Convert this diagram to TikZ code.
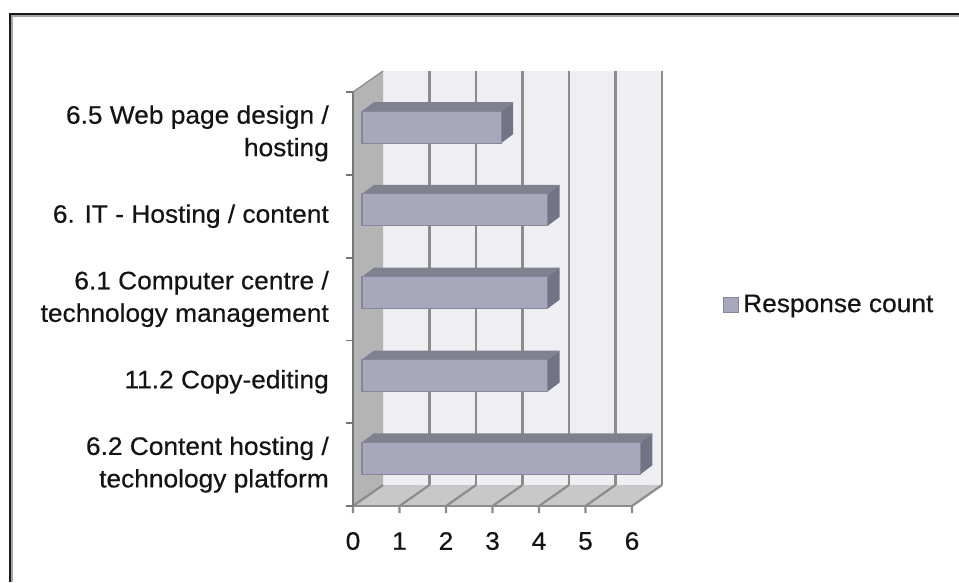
\documentclass[tikz,border=0pt]{standalone}
\usepackage{fontspec}
\setmainfont{Liberation Sans}[FakeStretch=1.04, FakeBold=0.4]
\definecolor{wallc}{HTML}{EFEFF3}
\definecolor{sidec}{HTML}{B4B4B4}
\definecolor{floorc}{HTML}{C8C8C8}
\definecolor{gridc}{HTML}{8C8C8C}
\definecolor{barfront}{HTML}{A7A8BB}
\definecolor{bartop}{HTML}{80818F}
\definecolor{barside}{HTML}{727384}
\definecolor{baredge}{HTML}{858699}
\begin{document}
\begin{tikzpicture}[x=1pt,y=-1pt,
  lab/.style={font=\fontsize{25.3}{32.5}\selectfont, text=black!92, inner sep=0pt},
  gridline/.style={draw=gridc, line width=2.2pt},
  axisline/.style={draw=gridc!85!black, line width=1.8pt},
  barface/.style={draw=baredge, line width=1.1pt, line join=round}]
\useasboundingbox (0,0) rectangle (959,582);
\fill[white] (0,0) rectangle (959,582);
% frame
\draw[black!35, line width=1.6pt] (11.8,582) -- (11.8,15.8) -- (959,15.8);
\draw[black!90, line width=2pt] (9.6,582) -- (9.6,13.6) -- (959,13.6);
% walls
\fill[wallc] (383,71) rectangle (662,485);
\fill[sidec] (353,92) -- (383,71) -- (383,485) -- (353,506) -- cycle;
\fill[floorc] (353,506) -- (383,485) -- (662,485) -- (632,506) -- cycle;
% gridlines
\foreach \k in {1,...,6} {
  \draw[gridline] (383+46.5*\k,71) -- (383+46.5*\k,485);
}
\foreach \k in {0,...,6} {
  \draw[gridline] (383+46.5*\k,485) -- (353+46.5*\k,506) -- (353+46.5*\k,513);
}
\draw[gridline] (353,506) -- (632,506);
\draw[gridline, line width=1.2pt] (353,92) -- (383,71);
% left axis
\draw[axisline] (353,92) -- (353,506);
\foreach \j in {0,...,5} {
  \draw[axisline] (346,92+82.8*\j) -- (353,92+82.8*\j);
}
% bars
\foreach \v/\j in {3/0,4/1,4/2,4/3,6/4} {
  \pgfmathsetmacro{\yt}{133.4+82.8*\j-6.3-16}
  \pgfmathsetmacro{\yb}{133.4+82.8*\j-6.3+16}
  \pgfmathsetmacro{\xr}{362+46.4*\v}
  \fill[bartop] (362,\yt) -- (\xr,\yt) -- (\xr+12,\yt-9) -- (374,\yt-9) -- cycle;
  \fill[barside] (\xr,\yt) -- (\xr+12,\yt-9) -- (\xr+12,\yb-9) -- (\xr,\yb) -- cycle;
  \filldraw[barface, fill=barfront] (362,\yt) rectangle (\xr,\yb);
}
% category labels
\node[lab, anchor=east, align=right] (c1) at (329,133.4) {6.5 Web page design /\\hosting};
\node[lab, anchor=east, align=right] (c2) at (329,216.2) {6. IT - Hosting / content};
\node[lab, anchor=east, align=right] (c3) at (329,299.0) {6.1 Computer centre /\\technology management};
\node[lab, anchor=east, align=right] (c4) at (329,381.8) {11.2 Copy-editing};
\node[lab, anchor=east, align=right] (c5) at (329,464.6) {6.2 Content hosting /\\technology platform};
% axis numbers
\foreach \k in {0,...,6} {
  \node[lab] (n\k) at (353+46.5*\k,541) {\k};
}
% legend
\node[draw=baredge, fill=barfront, line width=1pt, minimum width=15pt, minimum height=15pt, inner sep=0pt] (legbox) at (731,305) {};
\node[lab, anchor=west] (legtext) at (743,306) {Response count};
\end{tikzpicture}
\end{document}
